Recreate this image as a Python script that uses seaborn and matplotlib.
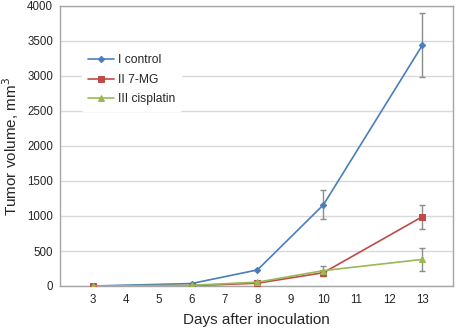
"""Tumor volume vs days after inoculation"""

import pandas as pd
import seaborn as sns
import matplotlib.pyplot as plt

days = [3, 6, 8, 10, 13]
groups = ["I control", "II 7-MG", "III cisplatin"]
control = [0, 35, 230, 1160, 3440]
mg7 = [0, 5, 40, 190, 990]
cisplatin = [0, 10, 55, 220, 380]

# error bars only at day 10 and 13
err_days = [10, 13]
control_err = [205, 460]
mg7_err = [0, 170]
cisplatin_err = [70, 160]

colors = {"I control": "#4a7ebb", "II 7-MG": "#be4b48", "III cisplatin": "#98b954"}
markers = {"I control": "D", "II 7-MG": "s", "III cisplatin": "^"}
msize = {"I control": 3.2, "II 7-MG": 4.3, "III cisplatin": 4.5}

df = pd.DataFrame({
    "day": days * 3,
    "volume": control + mg7 + cisplatin,
    "group": [g for g in groups for _ in days],
})

sns.set_style("white")
plt.rcParams["font.family"] = ["Liberation Sans", "DejaVu Sans"]

fig = plt.figure(figsize=(4.57, 3.33), dpi=100)
ax = fig.add_axes([60 / 457, 47 / 333, 393 / 457, 280 / 333])

# grey error bars drawn under the lines
errs = {"I control": control_err, "II 7-MG": mg7_err, "III cisplatin": cisplatin_err}
vals = {"I control": control, "II 7-MG": mg7, "III cisplatin": cisplatin}
for g in groups:
    y = [vals[g][days.index(d)] for d in err_days]
    ax.errorbar(err_days, y, yerr=errs[g], fmt="none", ecolor="#8c8c8c",
                elinewidth=1, capsize=2, capthick=1, zorder=2)

for g in groups:
    sub = df[df["group"] == g]
    sns.lineplot(data=sub, x="day", y="volume", color=colors[g], marker=markers[g],
                 markersize=msize[g], markeredgecolor=colors[g], linewidth=1.2,
                 label=g, ax=ax, zorder=3)

ax.set_xlim(2.01, 13.93)
ax.set_ylim(0, 4000)
ax.set_xticks(range(3, 14))
ax.set_yticks(range(0, 4001, 500))
ax.yaxis.grid(True, color="#d9d9d9", linewidth=1)
ax.set_axisbelow(True)
for s in ax.spines.values():
    s.set_color("#a6a6a6")
    s.set_linewidth(1)
ax.tick_params(axis="both", labelsize=8.3, length=3, color="#a6a6a6", width=1, pad=3)
ax.tick_params(axis="y", length=0, pad=5)

ax.set_xlabel("Days after inoculation", fontsize=11, labelpad=5)
ax.set_ylabel("Tumor volume, mm$^3$", fontsize=11, labelpad=4)

leg = ax.legend(loc="upper left", bbox_to_anchor=(0.04, 0.87), frameon=True,
                fontsize=8.7, handlelength=2.2, labelspacing=0.6, borderpad=0.5,
                handletextpad=0.3)
leg.get_frame().set_edgecolor("white")
leg.get_frame().set_facecolor("white")
leg.get_frame().set_alpha(1)

fig.savefig("out.png", dpi=100)
